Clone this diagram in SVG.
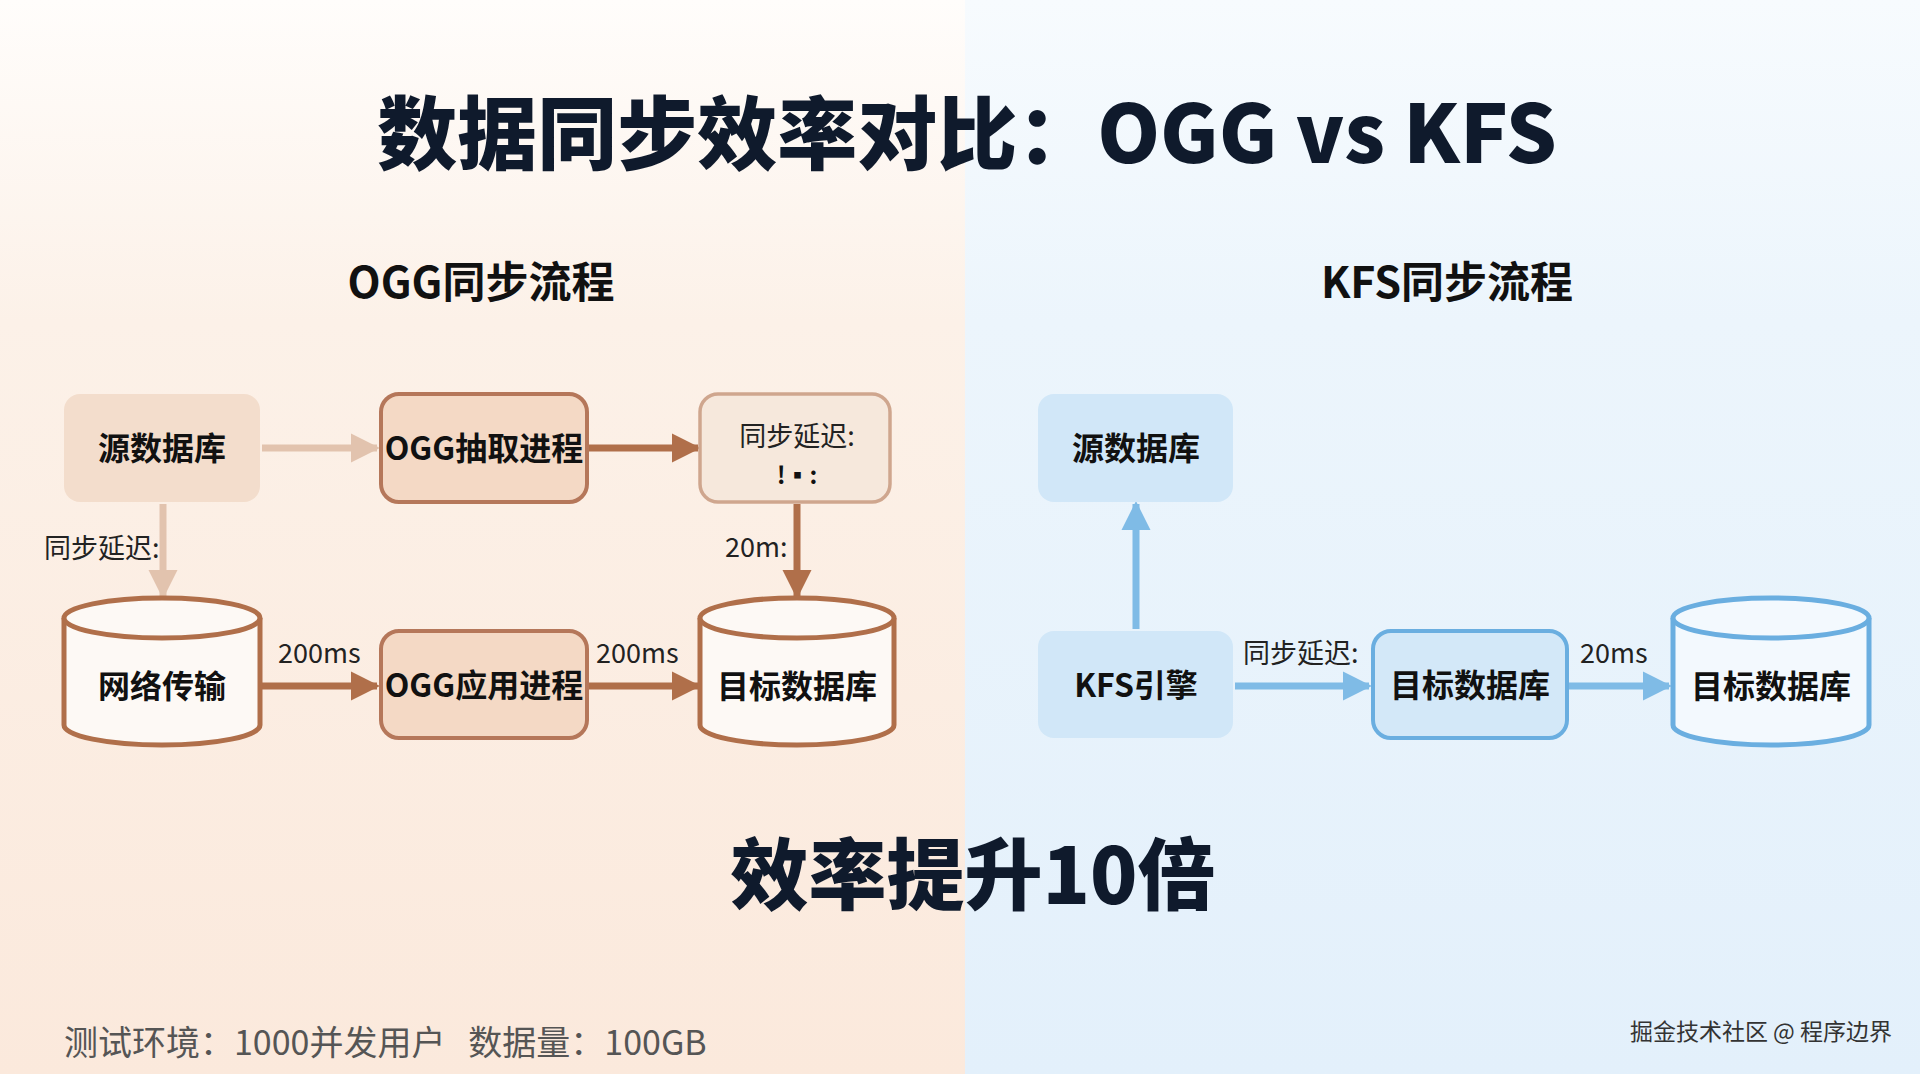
<svg xmlns="http://www.w3.org/2000/svg" width="1920" height="1074" viewBox="0 0 1920 1074">
<defs>
<linearGradient id="gl" x1="0" y1="0" x2="0" y2="1"><stop offset="0" stop-color="#fffdfb"/><stop offset="0.3" stop-color="#fcf1e8"/><stop offset="1" stop-color="#fbe9dc"/></linearGradient>
<linearGradient id="gr" x1="0" y1="0" x2="0" y2="1"><stop offset="0" stop-color="#f7fbfe"/><stop offset="0.3" stop-color="#ecf5fc"/><stop offset="1" stop-color="#e3f0fb"/></linearGradient>
<marker id="aL" viewBox="0 0 10 10" refX="9" refY="5" markerWidth="4.2" markerHeight="4.2" orient="auto"><path d="M0,0L10,5L0,10z" fill="#e2c3ae"/></marker>
<marker id="aD" viewBox="0 0 10 10" refX="9" refY="5" markerWidth="4.2" markerHeight="4.2" orient="auto"><path d="M0,0L10,5L0,10z" fill="#b06f4a"/></marker>
<marker id="aB" viewBox="0 0 10 10" refX="9" refY="5" markerWidth="4.2" markerHeight="4.2" orient="auto"><path d="M0,0L10,5L0,10z" fill="#7fbbe6"/></marker>
</defs>
<style>
text{font-family:"Noto Sans CJK SC","Noto Sans",sans-serif;fill:#111}
.n{font-size:32px;font-weight:700;text-anchor:middle}
.l{font-size:27px;fill:#222}
.o1{fill:#f3ddcc}
.o2{fill:#f4d9c5;stroke:#b5775a;stroke-width:4}
.o3{fill:#f6e8dc;stroke:#cfa68e;stroke-width:3.5}
.cy{fill:#fdf9f5;stroke:#b06f4a;stroke-width:5}
.b1{fill:#d1e7f8}
.b2{fill:#d3e8f8;stroke:#6aaee0;stroke-width:4}
.cb{fill:#f3f9fe;stroke:#6aaee0;stroke-width:5}
</style>
<rect x="0" y="0" width="965" height="1074" fill="url(#gl)"/>
<rect x="965" y="0" width="955" height="1074" fill="url(#gr)"/>
<text x="967" y="163" font-size="80" font-weight="900" text-anchor="middle" style="fill:#0f1a2c">数据同步效率对比：OGG vs KFS</text>
<text x="481" y="298" font-size="43" font-weight="700" text-anchor="middle">OGG同步流程</text>
<text x="1447" y="298" font-size="43" font-weight="700" text-anchor="middle">KFS同步流程</text>

<g id="connectors" fill="none" stroke-width="7">
<line x1="262" y1="448" x2="377" y2="448" stroke="#e2c3ae" marker-end="url(#aL)"/>
<line x1="163" y1="504" x2="163" y2="596" stroke="#e2c3ae" marker-end="url(#aL)"/>
<line x1="589" y1="448" x2="698" y2="448" stroke="#b06f4a" marker-end="url(#aD)"/>
<line x1="797" y1="504" x2="797" y2="596" stroke="#b06f4a" marker-end="url(#aD)"/>
<line x1="262" y1="686" x2="377" y2="686" stroke="#b06f4a" marker-end="url(#aD)"/>
<line x1="589" y1="686" x2="698" y2="686" stroke="#b06f4a" marker-end="url(#aD)"/>
<line x1="1136" y1="629" x2="1136" y2="504" stroke="#7fbbe6" marker-end="url(#aB)"/>
<line x1="1235" y1="686" x2="1369" y2="686" stroke="#7fbbe6" marker-end="url(#aB)"/>
<line x1="1569" y1="686" x2="1669" y2="686" stroke="#7fbbe6" marker-end="url(#aB)"/>
<text class="l" x="44" y="558">同步延迟:</text>
<text class="l" x="725" y="557">20m:</text>
<text class="l" x="278" y="663">200ms</text>
<text class="l" x="596" y="663">200ms</text>
<text class="l" x="1243" y="663">同步延迟:</text>
<text class="l" x="1580" y="663">20ms</text>
</g>

<g id="n-src"><rect class="o1" x="64" y="394" width="196" height="108" rx="16"/><text class="n" x="162" y="460">源数据库</text></g>
<g id="n-extract"><rect class="o2" x="381" y="394" width="206" height="108" rx="18"/><text class="n" x="484" y="460">OGG抽取进程</text></g>
<g id="n-delay"><rect class="o3" x="700" y="394" width="190" height="108" rx="18"/><text class="l" x="797" y="446" text-anchor="middle">同步延迟:</text><text x="797" y="484" font-size="24" font-weight="700" text-anchor="middle">!▪:</text></g>
<g id="n-net"><path class="cy" d="M64,618 A98,20 0 0 1 260,618 V725 A98,20 0 0 1 64,725 Z"/><path class="cy" d="M64,618 A98,20 0 0 0 260,618" fill="none"/><text class="n" x="162" y="698">网络传输</text></g>
<g id="n-apply"><rect class="o2" x="381" y="631" width="206" height="107" rx="18"/><text class="n" x="484" y="697">OGG应用进程</text></g>
<g id="n-tgt"><path class="cy" d="M700,618 A97,20 0 0 1 894,618 V725 A97,20 0 0 1 700,725 Z"/><path class="cy" d="M700,618 A97,20 0 0 0 894,618" fill="none"/><text class="n" x="797" y="698">目标数据库</text></g>

<g id="k-src"><rect class="b1" x="1038" y="394" width="195" height="108" rx="16"/><text class="n" x="1136" y="460">源数据库</text></g>
<g id="k-engine"><rect class="b1" x="1038" y="631" width="195" height="107" rx="16"/><text class="n" x="1136" y="697">KFS引擎</text></g>
<g id="k-tgt"><rect class="b2" x="1373" y="631" width="194" height="107" rx="18"/><text class="n" x="1470" y="697">目标数据库</text></g>
<g id="k-cyl"><path class="cb" d="M1673,618 A98,20 0 0 1 1869,618 V725 A98,20 0 0 1 1673,725 Z"/><path class="cb" d="M1673,618 A98,20 0 0 0 1869,618" fill="none"/><text class="n" x="1771" y="698">目标数据库</text></g>

<text x="973" y="904" font-size="78" font-weight="900" text-anchor="middle" style="fill:#0f1a2c">效率提升10倍</text>
<text x="64" y="1055" font-size="34" xml:space="preserve" style="fill:#555">测试环境：1000并发用户   数据量：100GB</text>
<text x="1892" y="1040" font-size="23" text-anchor="end" style="fill:#333">掘金技术社区 @ 程序边界</text>
</svg>
